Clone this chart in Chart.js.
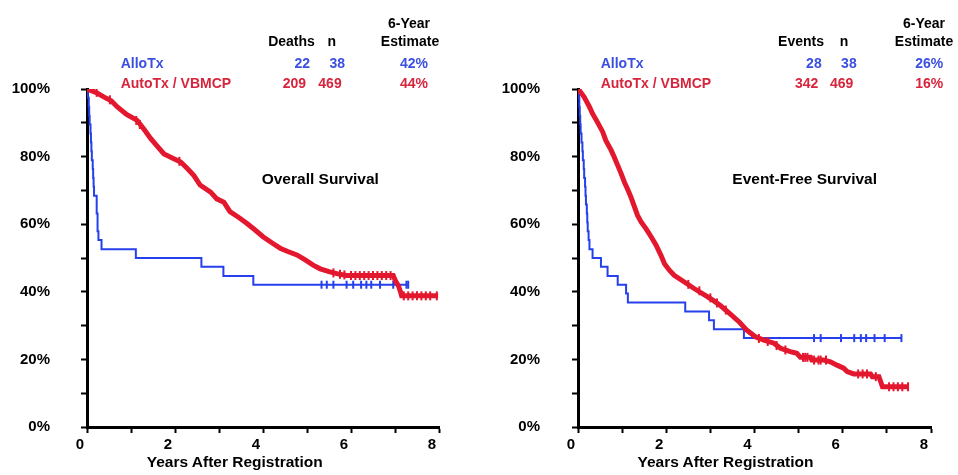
<!DOCTYPE html>
<html>
<head>
<meta charset="utf-8">
<script src="https://cdn.jsdelivr.net/npm/chart.js@4.4.0/dist/chart.umd.min.js"></script>
<style>
html,body{margin:0;padding:0;background:#fff;}
#wrap{position:relative;width:958px;height:475px;overflow:hidden;font-family:"Liberation Sans",Arial,Helvetica,sans-serif;font-weight:bold;color:#000;}
canvas{position:absolute;top:0;}
.t{position:absolute;white-space:nowrap;line-height:16px;height:16px;font-size:14px;}
.big{font-size:15.5px;line-height:17px;height:17px;}
.c{transform:translateX(-50%);}
.r{text-align:right;width:100px;}
.blue{color:#3b4fe0;}
.red{color:#d8243c;}
</style>
</head>
<body>
<div id="wrap">
  <canvas id="os" width="470" height="475" style="left:0px"></canvas>
  <canvas id="efs" width="478" height="475" style="left:480px"></canvas>

  <!-- left panel annotations -->
  <div class="t c" style="left:409px;top:15px">6-Year</div>
  <div class="t c" style="left:410px;top:33px">Estimate</div>
  <div class="t c" style="left:291.5px;top:33px">Deaths</div>
  <div class="t c" style="left:331.7px;top:33px">n</div>
  <div class="t blue" style="left:120.7px;top:55px">AlloTx</div>
  <div class="t red" style="left:120.7px;top:74.5px">AutoTx / VBMCP</div>
  <div class="t r blue" style="left:210px;top:55px">22</div>
  <div class="t r blue" style="left:245px;top:55px">38</div>
  <div class="t r blue" style="left:328px;top:55px">42%</div>
  <div class="t r red" style="left:206px;top:74.5px">209</div>
  <div class="t r red" style="left:241.7px;top:74.5px">469</div>
  <div class="t r red" style="left:328px;top:74.5px">44%</div>
  <div class="t big" style="left:261.7px;top:170px">Overall Survival</div>
  <div class="t big c" style="left:234.7px;top:453px">Years After Registration</div>

  <!-- right panel annotations -->
  <div class="t c" style="left:924px;top:15px">6-Year</div>
  <div class="t c" style="left:924px;top:33px">Estimate</div>
  <div class="t c" style="left:801px;top:33px">Events</div>
  <div class="t c" style="left:844px;top:33px">n</div>
  <div class="t blue" style="left:600.7px;top:55px">AlloTx</div>
  <div class="t red" style="left:600.7px;top:74.5px">AutoTx / VBMCP</div>
  <div class="t r blue" style="left:721.7px;top:55px">28</div>
  <div class="t r blue" style="left:756.7px;top:55px">38</div>
  <div class="t r blue" style="left:843.3px;top:55px">26%</div>
  <div class="t r red" style="left:718.3px;top:74.5px">342</div>
  <div class="t r red" style="left:753.3px;top:74.5px">469</div>
  <div class="t r red" style="left:843.3px;top:74.5px">16%</div>
  <div class="t big" style="left:732.3px;top:170px">Event-Free Survival</div>
  <div class="t big c" style="left:725.5px;top:453px">Years After Registration</div>
</div>

<script>
// ---------- tick labels ----------
const xTickLabels = ['0', '', '2', '', '4', '', '6', '', '8'];
const yTickLabels = ['0%', '', '20%', '', '40%', '', '60%', '', '80%', '', '100%'];

// ---------- Overall survival ----------
const osAlloT = [0, 0.02, 0.04, 0.05, 0.06, 0.08, 0.09, 0.10, 0.11, 0.13, 0.14, 0.15, 0.16, 0.22, 0.24, 0.26, 0.33, 1.11, 2.60, 3.10, 3.78, 7.30];
const osAlloS = [100, 97.4, 94.7, 92.1, 89.5, 86.8, 84.2, 81.6, 78.9, 76.3, 73.7, 71.1, 68.4, 63.2, 57.9, 55.3, 52.6, 50.0, 47.4, 44.7, 42.1, 42.1];
const osAlloCensT = [5.33, 5.45, 5.60, 5.90, 6.05, 6.23, 6.35, 6.46, 6.66, 6.96, 7.26, 7.30];
const osAlloCensS = [42.1, 42.1, 42.1, 42.1, 42.1, 42.1, 42.1, 42.1, 42.1, 42.1, 42.1, 42.1];

const osAutoT = [0, 0.08, 0.2, 0.39, 0.55, 0.69, 0.9, 1.14, 1.3, 1.45, 1.6, 1.75, 1.95, 2.13, 2.28, 2.43, 2.57, 2.81, 2.95, 3.11, 3.25, 3.45, 3.63, 3.8, 4.0, 4.2, 4.39, 4.55, 4.77, 4.95, 5.14, 5.3, 5.52, 5.7, 5.9, 6.96, 7.02, 7.08, 7.12, 7.15, 7.98];
const osAutoS = [100, 99.6, 99, 97.6, 96.5, 94.7, 92.5, 90.7, 88, 85.3, 83, 80.8, 79.5, 78.4, 76.5, 74.4, 71.6, 69.5, 67.5, 66.5, 63.7, 62, 60.3, 58.5, 56.3, 54.5, 52.9, 52, 50.9, 49.5, 47.9, 46.8, 45.9, 45.3, 44.8, 44.8, 43, 41.7, 40.2, 38.8, 38.8];
const osAutoCensT = [0.22, 0.52, 1.12, 1.2, 2.1, 5.6, 5.75, 5.85, 6.0, 6.1, 6.2, 6.3, 6.4, 6.5, 6.6, 6.7, 6.8, 6.9, 7.2, 7.3, 7.4, 7.5, 7.6, 7.7, 7.8, 7.95];
const osAutoCensS = [99, 96.8, 90.7, 89.5, 78.6, 45.6, 45.2, 45.0, 44.8, 44.8, 44.8, 44.8, 44.8, 44.8, 44.8, 44.8, 44.8, 44.8, 38.8, 38.8, 38.8, 38.8, 38.8, 38.8, 38.8, 38.8];

// ---------- Event-free survival ----------
const efsAlloT = [0, 0.02, 0.03, 0.04, 0.05, 0.06, 0.08, 0.10, 0.11, 0.13, 0.14, 0.16, 0.17, 0.18, 0.20, 0.21, 0.22, 0.24, 0.26, 0.33, 0.52, 0.67, 0.90, 1.09, 1.13, 2.43, 2.97, 3.08, 3.76, 7.33];
const efsAlloS = [100, 97.4, 94.7, 92.1, 89.5, 86.8, 84.2, 81.6, 78.9, 76.3, 73.7, 71.1, 68.4, 65.8, 63.2, 60.5, 57.9, 55.3, 52.6, 50.0, 47.4, 44.7, 42.1, 39.5, 36.8, 34.2, 31.6, 28.9, 26.3, 26.3];
const efsAlloCensT = [5.35, 5.50, 5.96, 6.26, 6.41, 6.53, 6.72, 6.95, 7.33];
const efsAlloCensS = [26.3, 26.3, 26.3, 26.3, 26.3, 26.3, 26.3, 26.3, 26.3];

const efsAutoT = [0, 0.03, 0.14, 0.26, 0.33, 0.44, 0.56, 0.63, 0.75, 0.82, 0.9, 0.98, 1.05, 1.12, 1.2, 1.28, 1.35, 1.43, 1.54, 1.66, 1.77, 1.88, 1.96, 2.07, 2.18, 2.41, 2.64, 2.94, 3.08, 3.24, 3.46, 3.66, 3.83, 4.02, 4.21, 4.44, 4.59, 4.81, 4.96, 5.04, 5.27, 5.30, 5.57, 5.72, 5.87, 6.02, 6.10, 6.25, 6.63, 6.67, 6.82, 6.86, 6.90, 7.48];
const efsAutoS = [100, 99.6, 97.6, 94.7, 92.7, 90.2, 87.3, 84.8, 81.9, 79.9, 77.4, 74.9, 72.5, 70.5, 68, 65.1, 62.6, 60.7, 58.7, 56.2, 53.8, 50.8, 48.3, 46.4, 44.9, 42.9, 40.9, 38.5, 37.3, 35.8, 33.3, 31.0, 28.6, 26.7, 25.7, 24.8, 23.3, 22.3, 21.8, 20.6, 20.6, 19.8, 19.8, 19.3, 18.3, 17.4, 16.4, 15.7, 15.7, 14.9, 14.9, 13.4, 11.9, 11.9];
const efsAutoCensT = [2.5, 2.75, 3.0, 3.15, 3.35, 4.1, 4.3, 4.5, 4.7, 5.1, 5.15, 5.2, 5.35, 5.45, 5.5, 5.62, 6.35, 6.45, 6.55, 6.75, 7.05, 7.15, 7.25, 7.35, 7.48];
const efsAutoCensS = [42.2, 40.3, 38.2, 36.7, 34.6, 26.2, 25.3, 24.1, 22.8, 20.6, 20.6, 20.6, 19.8, 19.8, 19.8, 19.8, 15.7, 15.7, 15.7, 14.9, 11.9, 11.9, 11.9, 11.9, 11.9];

// ---------- styling ----------
const RED = '#e3182e';
const BLUE = '#2540ec';
const FONT = {family: '"Liberation Sans", Arial, Helvetica, sans-serif', size: 15, weight: 'bold'};

function pts(T, S) { return T.map((t, i) => ({x: t, y: S[i]})); }

function build(id, autoT, autoS, autoCT, autoCS, alloT, alloS, alloCT, alloCS, yAxisW, padRight, yPad) {
  new Chart(document.getElementById(id), {
    type: 'line',
    data: {
      datasets: [
        {label: 'AutoTx / VBMCP', data: pts(autoT, autoS), borderColor: RED, backgroundColor: RED,
         borderWidth: 5, pointRadius: 0, tension: 0, fill: false},
        {label: 'AutoTx censored', data: pts(autoCT, autoCS), showLine: false, pointStyle: 'line',
         rotation: 90, pointRadius: 4.5, pointBorderWidth: 2, borderColor: RED, backgroundColor: RED},
        {label: 'AlloTx', data: pts(alloT, alloS), borderColor: BLUE, backgroundColor: BLUE,
         borderWidth: 2, pointRadius: 0, stepped: true, fill: false},
        {label: 'AlloTx censored', data: pts(alloCT, alloCS), showLine: false, pointStyle: 'line',
         rotation: 90, pointRadius: 4, pointBorderWidth: 2, borderColor: BLUE, backgroundColor: BLUE}
      ]
    },
    options: {
      responsive: false,
      animation: false,
      events: [],
      layout: {padding: {left: 0, top: 89, right: padRight, bottom: 18}},
      plugins: {legend: {display: false}, tooltip: {enabled: false}, title: {display: false}},
      scales: {
        x: {
          type: 'linear', min: 0, max: 8,
          ticks: {stepSize: 1, autoSkip: false, maxRotation: 0, color: '#000', font: FONT,
                  padding: 3, labelOffset: -7,
                  callback: (v, i) => xTickLabels[i]},
          grid: {display: true, drawOnChartArea: false, drawTicks: true, tickLength: 6,
                 tickWidth: 2, tickColor: '#000'},
          border: {display: true, color: '#000', width: 3},
          afterFit: s => { s.height = 30; s.paddingLeft = 0; s.paddingRight = 0; }
        },
        y: {
          type: 'linear', min: 0, max: 100,
          ticks: {stepSize: 10, autoSkip: false, color: '#000', font: FONT, padding: yPad,
                  callback: (v, i) => yTickLabels[i]},
          grid: {display: true, drawOnChartArea: false, drawTicks: true, tickLength: 6,
                 tickWidth: 2, tickColor: '#000'},
          border: {display: true, color: '#000', width: 3},
          afterFit: s => { s.width = yAxisW; s.paddingTop = 0; s.paddingBottom = 0; }
        }
      }
    }
  });
}

build('os', osAutoT, osAutoS, osAutoCensT, osAutoCensS, osAlloT, osAlloS, osAlloCensT, osAlloCensS, 87, 31, 31);
build('efs', efsAutoT, efsAutoS, efsAutoCensT, efsAutoCensS, efsAlloT, efsAlloS, efsAlloCensT, efsAlloCensS, 98, 27, 32);
</script>
</body>
</html>
